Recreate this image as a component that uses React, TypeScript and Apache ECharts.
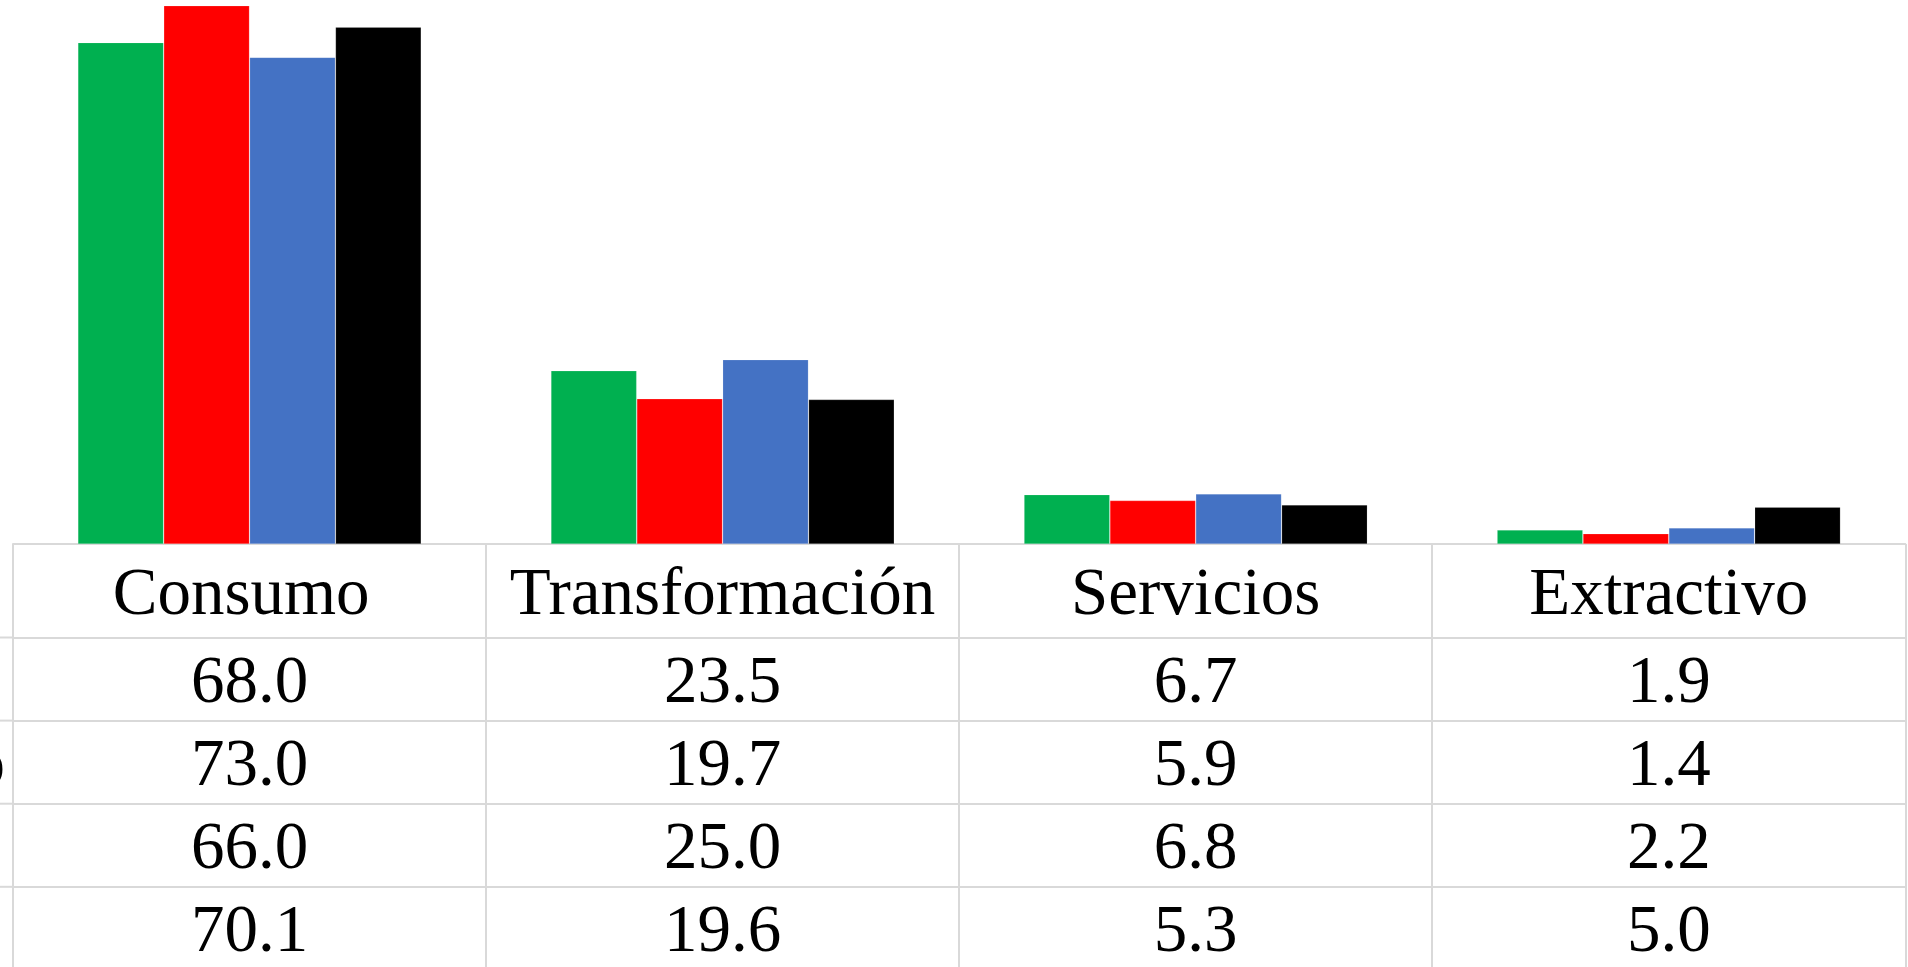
import React, { useEffect, useRef } from "react";
import * as echarts from "echarts";

const categories = ["Consumo ", "Transformación", "Servicios", "Extractivo"];
const seriesNames = ["Serie 1", "Serie 2", "Serie 3", "Serie 4"];
const serie1 = [68.0, 23.5, 6.7, 1.9];
const serie2 = [73.0, 19.7, 5.9, 1.4];
const serie3 = [66.0, 25.0, 6.8, 2.2];
const serie4 = [70.1, 19.6, 5.3, 5.0];
const seriesValues = [serie1, serie2, serie3, serie4];
const seriesColors = ["#00B050", "#FF0000", "#4472C4", "#000000"];
const cutRowLabel = "o";

const FONT = "'Liberation Serif', 'Times New Roman', serif";
const FONT_SIZE = 67;
const LINE = "#D9D9D9";
const GRID_LEFT = 13;
const GRID_RIGHT = 2.7;
const BASE_Y = 544;
const HEADER_H = 93.5;
const ROW_H = 83.1;

export default function App() {
  const ref = useRef<HTMLDivElement>(null);

  useEffect(() => {
    if (!ref.current) return;
    const chart = echarts.init(ref.current, undefined, { renderer: "svg" });
    const H = 967;

    const rowAxes = seriesValues.map((vals, k) => ({
      type: "category",
      gridIndex: 0,
      position: "bottom",
      data: categories,
      offset: HEADER_H + k * ROW_H,
      axisLine: { show: true, lineStyle: { color: LINE, width: 2 } },
      axisTick: { show: false },
      splitLine: { show: false },
      axisLabel: {
        show: true,
        interval: 0,
        margin: ROW_H / 2,
        verticalAlign: "middle",
        fontFamily: FONT,
        fontSize: FONT_SIZE,
        color: "#000",
        formatter: (_v: string, idx: number) => vals[idx].toFixed(1),
      },
    }));

    const stubs = seriesValues.map((_, k) => {
      const y = BASE_Y + HEADER_H + k * ROW_H;
      return {
        type: "line",
        shape: { x1: 0, y1: y, x2: GRID_LEFT, y2: y },
        style: { stroke: LINE, lineWidth: 2 },
        silent: true,
      };
    });

    chart.setOption({
      animation: false,
      backgroundColor: "#FFFFFF",
      grid: {
        left: GRID_LEFT,
        right: GRID_RIGHT,
        top: -46,
        bottom: H - BASE_Y,
        containLabel: false,
        outerBoundsMode: "none",
      },
      xAxis: [
        {
          type: "category",
          gridIndex: 0,
          position: "bottom",
          data: categories,
          axisLine: { show: true, lineStyle: { color: LINE, width: 2 } },
          axisTick: {
            show: true,
            interval: 0,
            length: HEADER_H + 4 * ROW_H + 10,
            lineStyle: { color: LINE, width: 2 },
          },
          splitLine: { show: false },
          axisLabel: {
            show: true,
            interval: 0,
            margin: HEADER_H / 2,
            verticalAlign: "middle",
            fontFamily: FONT,
            fontSize: FONT_SIZE,
            color: "#000",
          },
        },
        ...rowAxes,
      ],
      yAxis: {
        type: "value",
        min: 0,
        max: 80,
        show: false,
        splitLine: { show: false },
      },
      series: seriesValues.map((vals, i) => ({
        type: "bar",
        name: seriesNames[i],
        xAxisIndex: 0,
        data: vals,
        barGap: "0%",
        barCategoryGap: "27.4%",
        itemStyle: {
          color: seriesColors[i],
          borderColor: "rgba(255,255,255,0.2)",
          borderWidth: 0.75,
        },
      })),
      graphic: [
        ...stubs,
        {
          type: "text",
          x: 5,
          y: BASE_Y + HEADER_H + 1.5 * ROW_H,
          style: {
            text: cutRowLabel,
            fontFamily: FONT,
            fontSize: FONT_SIZE,
            fill: "#000",
            align: "right",
            verticalAlign: "middle",
          },
          silent: true,
        },
      ],
    });

    const onResize = () => chart.resize();
    window.addEventListener("resize", onResize);
    return () => {
      window.removeEventListener("resize", onResize);
      chart.dispose();
    };
  }, []);

  return (
    <div
      ref={ref}
      style={{ position: "fixed", left: 0, top: 0, width: 1908, height: 967, background: "#fff" }}
    />
  );
}
